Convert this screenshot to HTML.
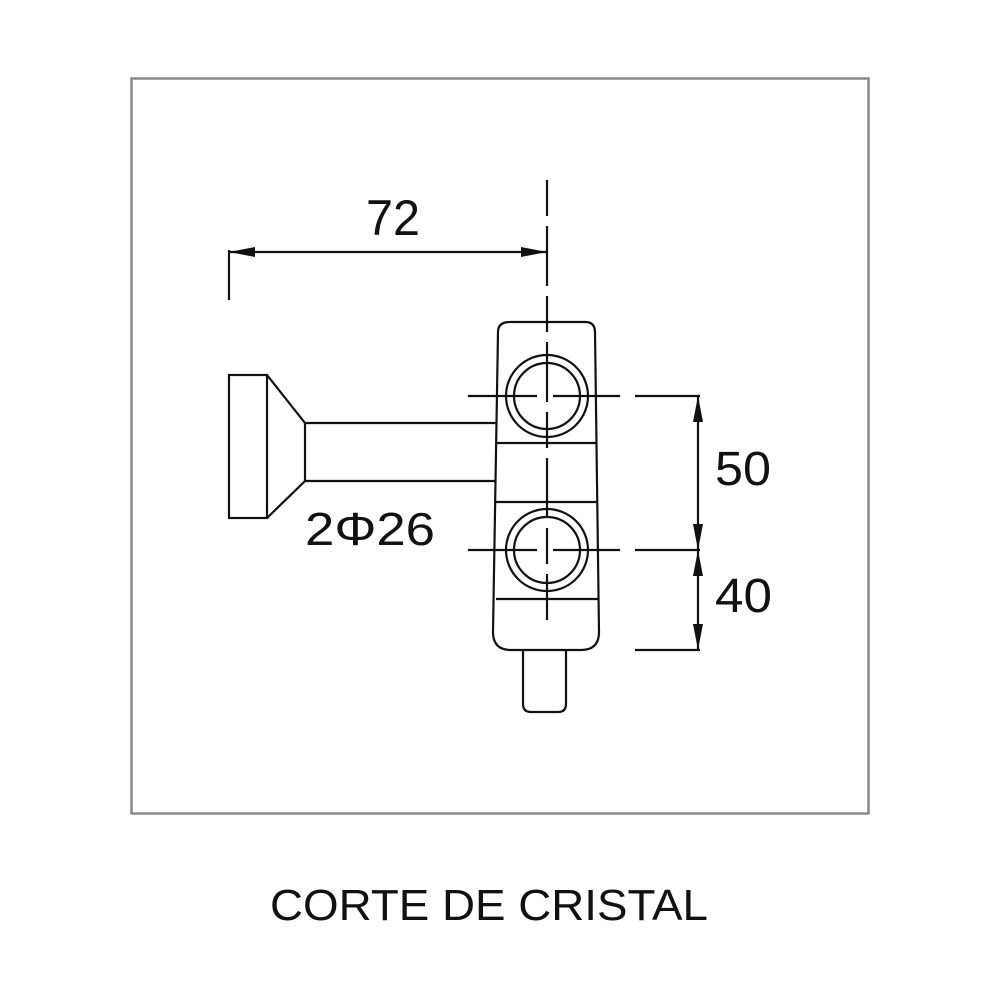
<!DOCTYPE html>
<html><head><style>body{margin:0;background:#fff}svg{display:block}</style></head>
<body>
<svg width="1000" height="1000" viewBox="0 0 1000 1000" xmlns="http://www.w3.org/2000/svg" font-family="Liberation Sans, DejaVu Sans, sans-serif">
<rect x="131.5" y="78.5" width="737" height="735" fill="none" stroke="#8a8a8a" stroke-width="2.5"/>
<g fill="none" stroke="#111" stroke-width="2.2">
<path d="M510,322 L585,322 Q595,322 595,332 L599,632 Q599,650 581,650 L511,650 Q493,650 493,632 L498,332 Q498,322 510,322 Z"/>
<line x1="497" y1="443" x2="597" y2="443"/>
<line x1="496" y1="502" x2="598" y2="502"/>
<line x1="496" y1="599" x2="599" y2="599"/>
<circle cx="547" cy="396" r="41"/><circle cx="547" cy="396" r="33"/>
<circle cx="547" cy="550" r="41"/><circle cx="547" cy="550" r="33"/>
<path d="M523,650 L523,704 Q523,712 531,712 L558,712 Q566,712 566,704 L566,650"/>
<rect x="229" y="375" width="38" height="143"/>
<path d="M267,375 L305,423 L305,481 L267,518"/>
<line x1="305" y1="423" x2="496" y2="423"/>
<line x1="305" y1="481" x2="495" y2="481"/>
<line x1="547" y1="180" x2="547" y2="620" stroke-dasharray="36,10,60,10"/>
<line x1="468" y1="396" x2="537" y2="396"/><line x1="553" y1="396" x2="620" y2="396"/>
<line x1="468" y1="550" x2="537" y2="550"/><line x1="553" y1="550" x2="620" y2="550"/>
<line x1="635" y1="396" x2="700" y2="396"/>
<line x1="635" y1="550" x2="700" y2="550"/>
<line x1="635" y1="650" x2="700" y2="650"/>
<line x1="698" y1="396" x2="698" y2="650"/>
<line x1="229" y1="250" x2="229" y2="300"/>
<line x1="229" y1="252" x2="547" y2="252"/>
</g>
<g fill="#111">
<polygon points="229,252 255,247 255,257"/>
<polygon points="547,252 521,247 521,257"/>
<polygon points="698,396 693,422 703,422"/>
<polygon points="698,550 693,524 703,524"/>
<polygon points="698,550 693,576 703,576"/>
<polygon points="698,650 693,624 703,624"/>
</g>
<g fill="#111">
<text x="366" y="235" font-size="50" textLength="54" lengthAdjust="spacingAndGlyphs">72</text>
<text x="305" y="545" font-size="46" textLength="130" lengthAdjust="spacingAndGlyphs">2Φ26</text>
<text x="715" y="485" font-size="48" textLength="56" lengthAdjust="spacingAndGlyphs">50</text>
<text x="715" y="612" font-size="48" textLength="57" lengthAdjust="spacingAndGlyphs">40</text>
<text x="270" y="920" font-size="44" textLength="438" lengthAdjust="spacingAndGlyphs">CORTE DE CRISTAL</text>
</g>
</svg>
</body></html>
